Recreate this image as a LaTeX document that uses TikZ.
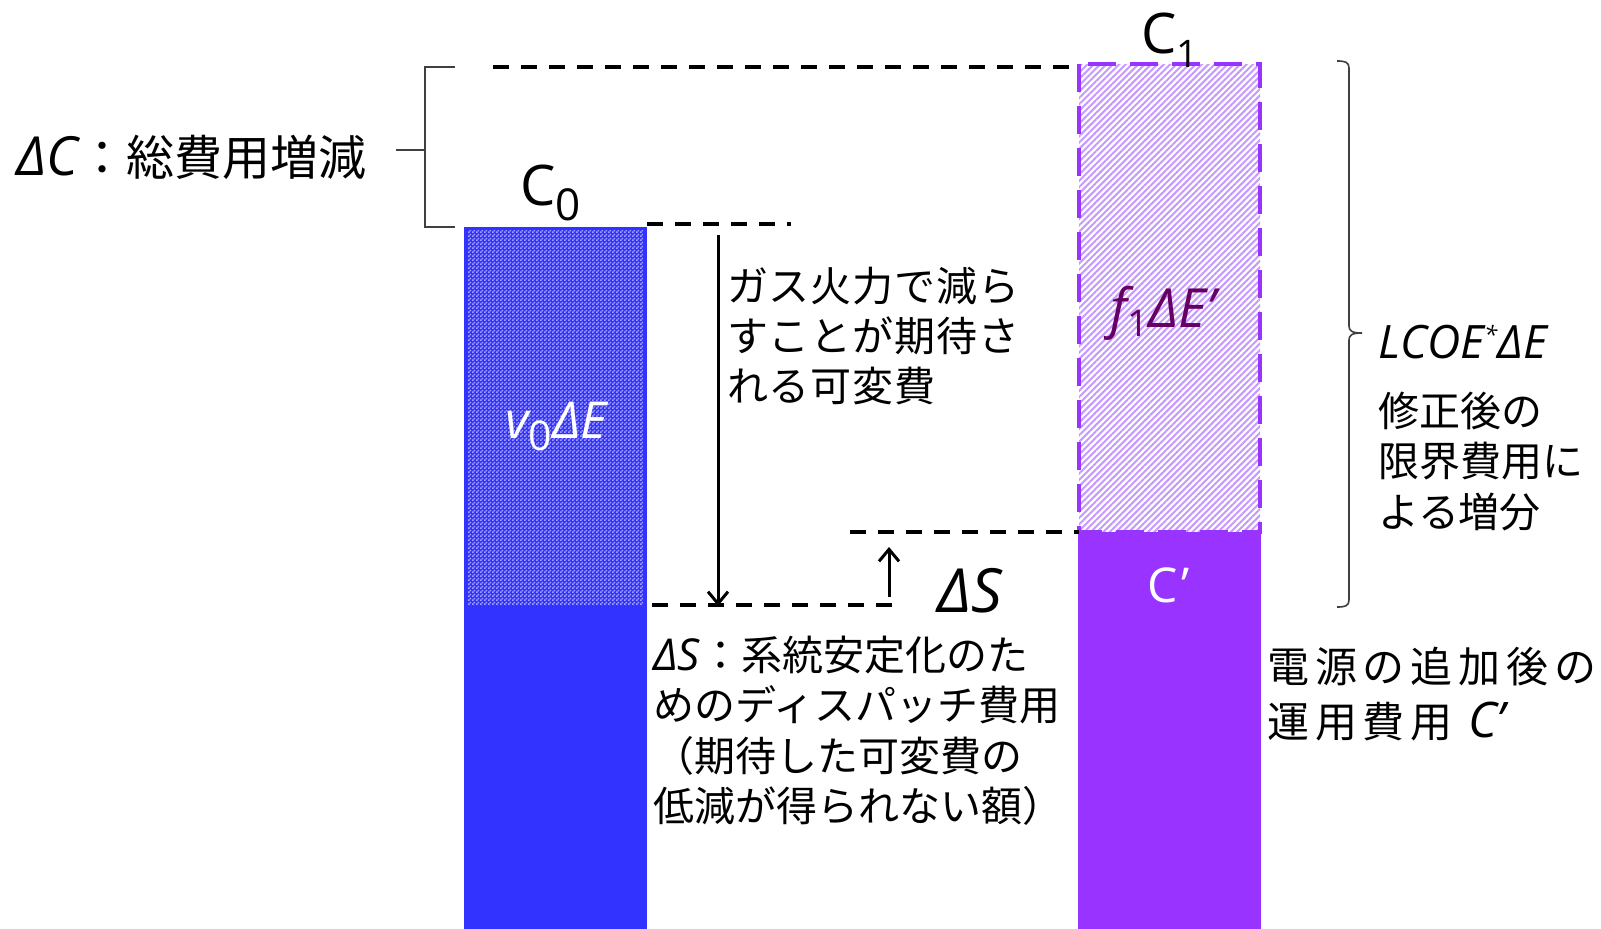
\documentclass[tikz,border=0pt]{standalone}
\usepackage{fontspec}
\setmainfont{Open Sans}
\newfontfamily\jp{Noto Sans CJK JP}
\newfontfamily\jpwide{Noto Sans CJK JP}[LetterSpace=14]
\newfontfamily\jpmid{Noto Sans CJK JP}[LetterSpace=2]
\usetikzlibrary{arrows.meta,patterns.meta}
\definecolor{barblue}{HTML}{3333FF}
\definecolor{checklight}{HTML}{A3A3FF}
\definecolor{barpurple}{HTML}{9933FF}
\definecolor{hatchpurple}{HTML}{C699FF}
\definecolor{labelpurple}{HTML}{660066}
\definecolor{bracegray}{HTML}{404040}
\newcommand\fsz[1]{\fontsize{#1}{#1}\selectfont}
\pgfdeclarepattern{name=checkerA, type=uncolored,
  bottom left={\pgfpointorigin}, top right={\pgfpoint{4pt}{4pt}},
  tile size={\pgfpoint{4pt}{4pt}},
  code={\pgfpathrectangle{\pgfpointorigin}{\pgfpoint{2pt}{2pt}}%
        \pgfpathrectangle{\pgfpoint{2pt}{2pt}}{\pgfpoint{2pt}{2pt}}%
        \pgfusepath{fill}}}
\begin{document}
\begin{tikzpicture}[x=1pt,y=-1pt,
  lbl/.style={inner sep=0pt, anchor=base west},
  jpl/.style={lbl, font=\jp\fsz{41}},
  jpm/.style={lbl, font=\jpmid\fsz{41}},
  dline/.style={line width=3.5pt, dash pattern=on 16pt off 12pt},
  arr/.style={line width=3pt, -{Straight Barb[length=12pt,width=20pt]}},
  brk/.style={line width=2pt, bracegray},
  brc/.style={line width=1.6pt, bracegray}]
\useasboundingbox[fill=white] (0,0) rectangle (1601,929);

% ---- coordinates
\coordinate (bluetl) at (464,226.7);
\coordinate (bluemid) at (647,606.7);
\coordinate (bluebr) at (647,929);
\coordinate (bluemidL) at (464,606.7);
\coordinate (purtl) at (1079,64);
\coordinate (purmid) at (1260,531.5);
\coordinate (purmidL) at (1079,531.5);
\coordinate (purbr) at (1261,929);

% ---- blue bar
\fill[barblue] (bluemidL) rectangle (bluebr);
\fill[barblue] (bluetl) rectangle (bluemid);
\fill[pattern={checkerA}, pattern color=checklight] (468,230.5) rectangle (643,605);

% ---- purple bar
\fill[barpurple] (1078,531.5) rectangle (purbr);
\fill[white] (purtl) rectangle (purmid);
\fill[pattern={Lines[angle=45,distance=4.5pt,line width=2pt]}, pattern color=hatchpurple] (purtl) rectangle (purmid);
\draw[barpurple, line width=4pt, dash pattern=on 28pt off 14pt] (purtl) rectangle (purmid);

% ---- dashed lines
\coordinate (topL) at (493,67);
\coordinate (topR) at (1079,67);
\draw[dline] (topL) -- (topR);
\coordinate (c0dL) at (647,224);
\coordinate (c0dR) at (791,224);
\draw[dline] (c0dL) -- (c0dR);
\coordinate (botL) at (652,605);
\coordinate (botR) at (900,605);
\draw[dline] (botL) -- (botR);
\coordinate (cpL) at (850,532);
\coordinate (cpR) at (1079,532);
\draw[dline] (cpL) -- (cpR);

% ---- arrows
\coordinate (a1s) at (718,235);
\coordinate (a1e) at (718,606);
\draw[arr] (a1s) -- (a1e);
\coordinate (a2s) at (889,597);
\coordinate (a2e) at (889,547);
\draw[arr] (a2s) -- (a2e);

% ---- left bracket
\coordinate (bkT) at (455,67);
\coordinate (bkTc) at (425,67);
\coordinate (bkBc) at (425,227);
\coordinate (bkB) at (455,227);
\coordinate (bkM) at (425,150);
\coordinate (bkMo) at (396,150);
\draw[brk] (bkT) -- (bkTc) -- (bkBc) -- (bkB);
\draw[brk] (bkM) -- (bkMo);

% ---- right brace
\draw[brc] (1337,61) .. controls (1345,61) and (1349,62) .. (1349,68)
  -- (1349,326) .. controls (1349,331) and (1352,333) .. (1362,333)
  .. controls (1352,333) and (1349,335) .. (1349,340)
  -- (1349,600) .. controls (1349,606) and (1345,607) .. (1337,607);

% ---- labels
\node[lbl] (dC) at (16,175) {\fsz{54}\itshape ΔC\upshape\jp\fsz{48}：総費用増減};
\node[lbl] (c0) at (520,205) {\fsz{56}C\raisebox{-15pt}{\fsz{44}0}};
\node[lbl] (c1) at (1141,53) {\fsz{56}C\raisebox{-14pt}{\fsz{38}1}};
\node[lbl, text=white] (v0) at (505,438) {\fsz{51}\itshape v\raisebox{-12pt}{\upshape\fsz{41}0}ΔE};
\node[lbl, text=labelpurple] (f1) at (1110,327) {\fsz{54}\itshape f\raisebox{-9pt}{\upshape\fsz{37}1}ΔE’};
\node[lbl, text=white] (cp) at (1147,602) {\fsz{48}C\kern4pt’};
\node[lbl] (dS) at (937,612) {\fsz{61}\itshape ΔS};
\node[lbl] (lcoe) at (1378,358) {\fsz{46}\itshape LCOE\raisebox{15pt}{\fsz{24}*}ΔE};

\node[jpm] (g1) at (727,301.5) {ガス火力で減ら};
\node[jpm] (g2) at (727,351.5) {すことが期待さ};
\node[jpm] (g3) at (727,401.5) {れる可変費};

\node[lbl] (s1) at (653,670) {\fsz{44}\itshape ΔS\upshape\jp\fsz{41}：系統安定化のた};
\node[jpl] (s2) at (653,720) {めのディスパッチ費用};
\node[jpl] (s3) at (653,771) {（期待した可変費の};
\node[jpl] (s4) at (653,821) {低減が得られない額）};

\node[jpl] (r1) at (1378,426) {修正後の};
\node[jpl] (r2) at (1378,476) {限界費用に};
\node[jpl] (r3) at (1378,527) {よる増分};

\node[lbl] (b1) at (1267,682) {\jpwide\fsz{42}電源の追加後の};
\node[lbl] (b2) at (1267,737) {\jpwide\fsz{42}運用費用 \rmfamily\itshape\fsz{49}C’};
\end{tikzpicture}
\end{document}
